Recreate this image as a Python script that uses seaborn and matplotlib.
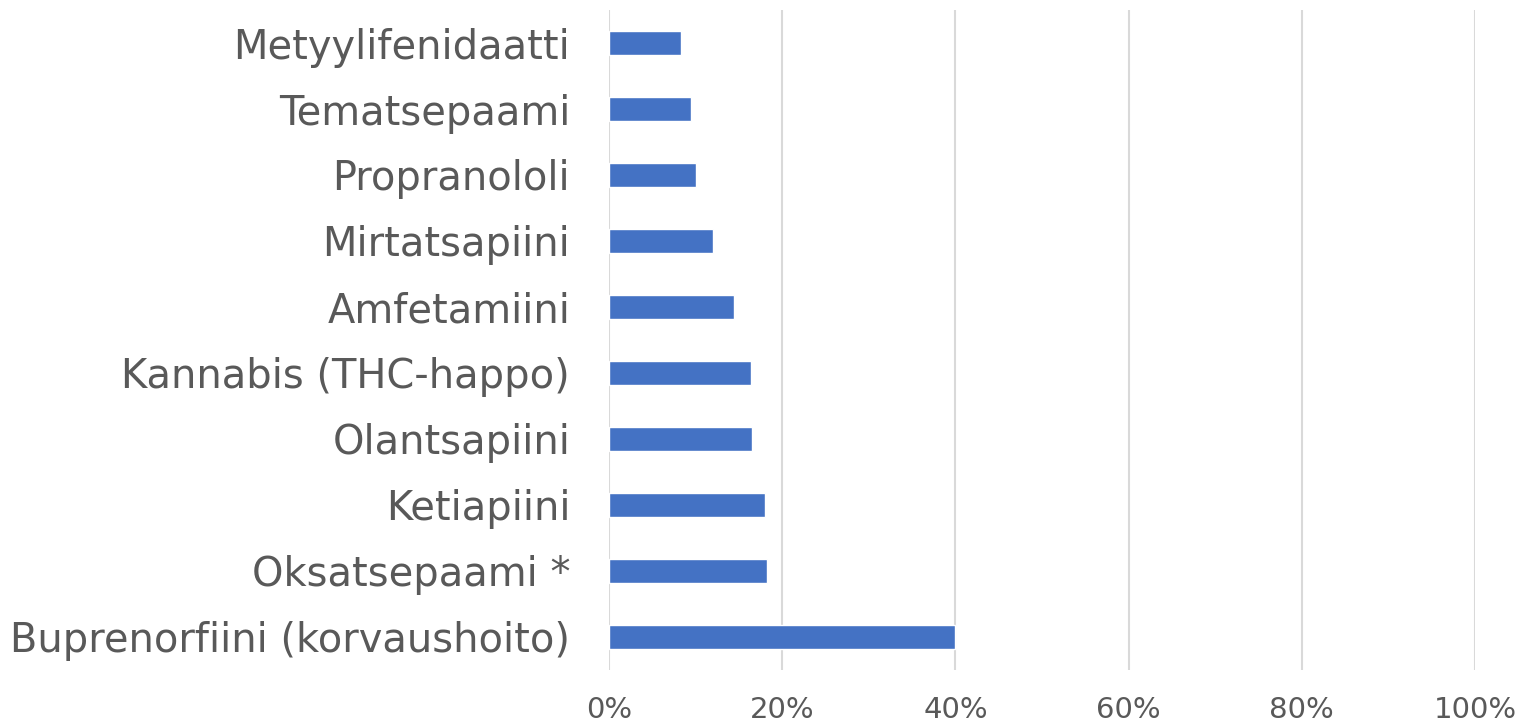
import matplotlib
matplotlib.use('Agg')
import matplotlib.pyplot as plt
from matplotlib.ticker import PercentFormatter
import pandas as pd
import seaborn as sns

drugs = ['Metyylifenidaatti', 'Tematsepaami', 'Propranololi', 'Mirtatsapiini',
         'Amfetamiini', 'Kannabis (THC-happo)', 'Olantsapiini', 'Ketiapiini',
         'Oksatsepaami *', 'Buprenorfiini (korvaushoito)']
shares = [8.3, 9.5, 10.0, 12.0, 14.4, 16.35, 16.5, 18.0, 18.2, 40.0]
xticks = [0, 20, 40, 60, 80, 100]

df = pd.DataFrame({'drug': drugs, 'share': shares})

sns.set_style('white')
plt.rcParams['font.family'] = ['DejaVu Sans']

fig = plt.figure(figsize=(15.2, 7.25), dpi=100)
ax = fig.add_axes([0.4007, 0.0759, 0.5697, 0.9103])

sns.barplot(data=df, x='share', y='drug', orient='h', color='#4472C4',
            saturation=1, width=0.35, ax=ax, zorder=3)

ax.set_xlim(0, 100)
ax.set_xticks(xticks)
ax.xaxis.set_major_formatter(PercentFormatter(decimals=0))
ax.grid(axis='x', color='#d9d9d9', linewidth=1.5, zorder=0)
for s in ax.spines.values():
    s.set_visible(False)
ax.set_xlabel('')
ax.set_ylabel('')
ax.tick_params(axis='y', length=0, pad=28, labelsize=28.8, labelcolor='#595959')
ax.tick_params(axis='x', length=0, pad=19, labelsize=21, labelcolor='#595959')

fig.savefig('out.png', dpi=100, facecolor='white')
